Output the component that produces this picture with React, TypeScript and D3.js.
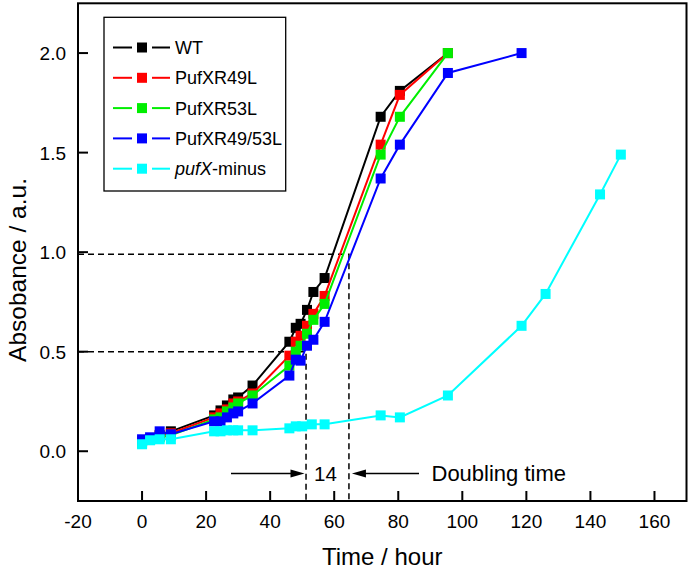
import React from 'react';
import * as d3 from 'd3';

// ---- data ----
const timesMutants = [0, 2.5, 5.5, 9, 22.5, 24.5, 26.5, 28.5, 30, 34.5, 46, 48, 49.5, 51.5, 53.5, 57, 74.5, 80.5, 95.5];
const wtValues = [0.05, 0.06, 0.08, 0.10, 0.18, 0.205, 0.23, 0.26, 0.27, 0.33, 0.55, 0.62, 0.64, 0.71, 0.80, 0.87, 1.68, 1.81, 2.0];
const r49Values = [0.05, 0.06, 0.08, 0.09, 0.17, 0.19, 0.21, 0.24, 0.25, 0.29, 0.48, 0.55, 0.58, 0.63, 0.69, 0.78, 1.54, 1.79, 2.0];
const r53Values = [0.04, 0.06, 0.07, 0.08, 0.16, 0.17, 0.20, 0.22, 0.24, 0.28, 0.43, 0.50, 0.53, 0.59, 0.66, 0.74, 1.49, 1.68, 2.0];
const timesDouble = [0, 2.5, 5.5, 9, 22.5, 24.5, 26.5, 28.5, 30, 34.5, 46, 48, 49.5, 51.5, 53.5, 57, 74.5, 80.5, 95.5, 118.5];
const r4953Values = [0.06, 0.07, 0.10, 0.085, 0.15, 0.15, 0.17, 0.19, 0.20, 0.24, 0.38, 0.46, 0.455, 0.53, 0.56, 0.65, 1.37, 1.54, 1.90, 2.0];
const timesMinus = [0, 2.5, 5.5, 9, 22.5, 24.5, 26.5, 28.5, 30, 34.5, 46, 48, 50, 53, 57, 74.5, 80.5, 95.5, 118.5, 126, 143, 149.5];
const minusValues = [0.035, 0.055, 0.06, 0.06, 0.10, 0.10, 0.105, 0.105, 0.105, 0.105, 0.115, 0.125, 0.125, 0.135, 0.135, 0.18, 0.17, 0.28, 0.63, 0.79, 1.29, 1.49];

const seriesNames = ['WT', 'PufXR49L', 'PufXR53L', 'PufXR49/53L', 'pufX-minus'];
const seriesColors = ['#000000', '#ff0000', '#00ee00', '#0000ff', '#00ffff'];
const seriesTimes = [timesMutants, timesMutants, timesMutants, timesDouble, timesMinus];
const seriesValues = [wtValues, r49Values, r53Values, r4953Values, minusValues];

const xTicks = [-20, 0, 20, 40, 60, 80, 100, 120, 140, 160];
const yTicks = [0, 0.5, 1.0, 1.5, 2.0];

// doubling-time annotation
const halfLevel = 0.5;
const fullLevel = 0.99;
const halfTime = 51.2;
const fullTime = 64.6;
const doublingLabel = '14';

const FONT = '"Liberation Sans", Arial, Helvetica, sans-serif';

export default function App() {
  const W = 690, H = 572;
  const left = 78, right = 686.5, top = 3.3, bottom = 501;
  const x = d3.scaleLinear().domain([-20, 170]).range([left, right]);
  const y = d3.scaleLinear().domain([-0.25, 2.25]).range([bottom, top]);
  const line = d3.line<[number, number]>().x(d => x(d[0])).y(d => y(d[1]));
  const ms = 10;

  const legX = 104, legY = 17.3, legW = 181.7, legH = 173.7;
  const legRow0 = 47.5, legStep = 30.3;

  const arrowY = 473.5;

  return (
    <svg width={W} height={H} style={{ position: 'absolute', left: 0, top: 0, background: '#fff' }} fontFamily={FONT}>
      <rect x={0} y={0} width={W} height={H} fill="#fff" />
      {/* dashed guides */}
      <g stroke="#000" strokeWidth={1.5} strokeDasharray="6,4" fill="none">
        <path d={`M${x(-20)},${y(fullLevel)}H${x(fullTime)}V${bottom}`} />
        <path d={`M${x(-20)},${y(halfLevel)}H${x(halfTime)}V${bottom}`} />
      </g>
      {/* series */}
      {seriesNames.map((name, i) => {
        const pts: [number, number][] = seriesTimes[i].map((t, j) => [t, seriesValues[i][j]]);
        return (
          <g key={name}>
            <path d={line(pts) || ''} fill="none" stroke={seriesColors[i]} strokeWidth={2} />
            {pts.map((p, j) => (
              <rect key={j} x={x(p[0]) - ms / 2} y={y(p[1]) - ms / 2} width={ms} height={ms} fill={seriesColors[i]} />
            ))}
          </g>
        );
      })}
      {/* frame */}
      <rect x={left} y={top} width={right - left} height={bottom - top} fill="none" stroke="#000" strokeWidth={2} />
      {/* x ticks */}
      {xTicks.map(t => (
        <g key={t}>
          <line x1={x(t)} x2={x(t)} y1={bottom} y2={bottom - 10} stroke="#000" strokeWidth={2} />
          <text x={x(t)} y={527.5} textAnchor="middle" fontSize={19}>{t}</text>
        </g>
      ))}
      {/* y ticks */}
      {yTicks.map(t => (
        <g key={t}>
          <line x1={left} x2={left + 10} y1={y(t)} y2={y(t)} stroke="#000" strokeWidth={2} />
          <text x={66} y={y(t) + 7} textAnchor="end" fontSize={19}>{t.toFixed(1)}</text>
        </g>
      ))}
      {/* axis titles */}
      <text x={(left + right) / 2} y={565} textAnchor="middle" fontSize={24}>Time / hour</text>
      <text transform={`translate(25.5,270) rotate(-90)`} textAnchor="middle" fontSize={24.5}>Absobance / a.u.</text>
      {/* annotation */}
      <g stroke="#000" strokeWidth={1.3}>
        <line x1={231} x2={296} y1={arrowY} y2={arrowY} />
        <line x1={419} x2={361} y1={arrowY} y2={arrowY} />
      </g>
      <path d={`M${x(halfTime) - 1.5},${arrowY}l-14,-4v8z`} fill="#000" />
      <path d={`M${x(fullTime) + 3},${arrowY}l14,-4v8z`} fill="#000" />
      <text x={325.5} y={481} textAnchor="middle" fontSize={20.5}>{doublingLabel}</text>
      <text x={431.5} y={481} fontSize={22}>Doubling time</text>
      {/* legend */}
      <rect x={legX} y={legY} width={legW} height={legH} fill="#fff" stroke="#000" strokeWidth={1.3} />
      {seriesNames.map((name, i) => {
        const ly = legRow0 + i * legStep;
        return (
          <g key={name}>
            <line x1={113} x2={132} y1={ly} y2={ly} stroke={seriesColors[i]} strokeWidth={2} />
            <line x1={152} x2={170} y1={ly} y2={ly} stroke={seriesColors[i]} strokeWidth={2} />
            <rect x={142 - ms / 2} y={ly - ms / 2} width={ms} height={ms} fill={seriesColors[i]} />
            <text x={175} y={ly + 6.5} fontSize={18}>
              {name === 'pufX-minus' ? (<><tspan fontStyle="italic">pufX</tspan><tspan>-minus</tspan></>) : name}
            </text>
          </g>
        );
      })}
    </svg>
  );
}
